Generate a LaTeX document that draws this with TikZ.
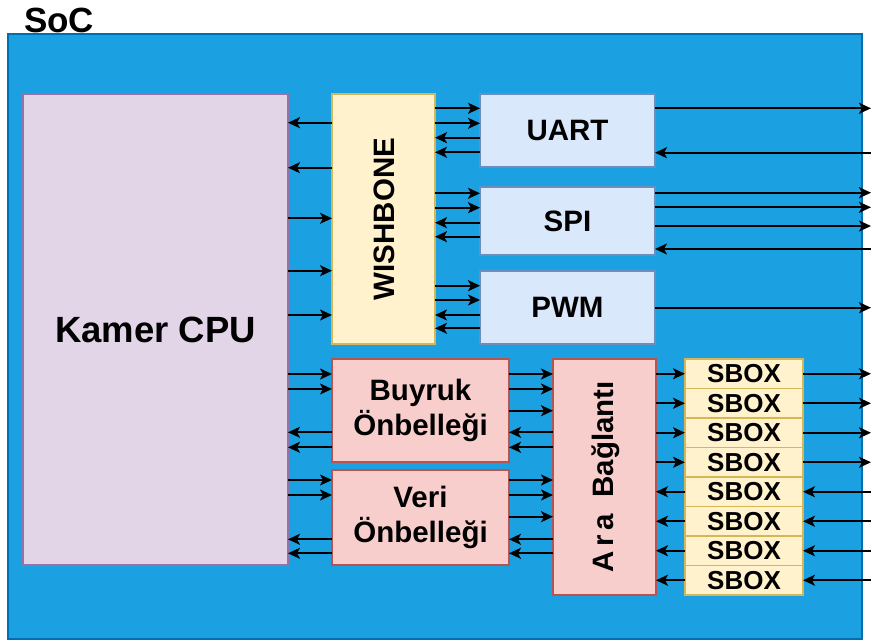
\documentclass[tikz,border=0pt]{standalone}
\usepackage{fontspec}
\setmainfont{Liberation Sans}
\usetikzlibrary{arrows.meta}
\definecolor{socfill}{HTML}{1BA1E2}
\definecolor{socline}{HTML}{006EAF}
\definecolor{cpufill}{HTML}{E1D5E7}
\definecolor{cpuline}{HTML}{9673A6}
\definecolor{yfill}{HTML}{FFF2CC}
\definecolor{yline}{HTML}{D6B656}
\definecolor{bfill}{HTML}{DAE8FC}
\definecolor{bline}{HTML}{6C8EBF}
\definecolor{rfill}{HTML}{F8CECC}
\definecolor{rline}{HTML}{B85450}
\tikzset{
  blk/.style={draw, line width=1.2pt, anchor=north west, inner sep=0pt, outer sep=0pt,
    font=\bfseries\fontsize{29.5}{35}\selectfont, align=center, text=black},
  arr/.style={draw=black, line width=2pt, -{Stealth[length=12pt,width=11pt,inset=3pt]}},
}
\begin{document}
\begin{tikzpicture}[x=1pt,y=-1pt]
\useasboundingbox (0,0) rectangle (871,640);
\node[blk, draw=socline, fill=socfill, line width=1.5pt, minimum width=854pt, minimum height=605pt] (soc) at (8,34) {};
\node[anchor=base west, inner sep=0pt, font=\bfseries\fontsize{35}{40}\selectfont] (soclabel) at (24,32) {SoC};
\node[blk, draw=cpuline, fill=cpufill, minimum width=265pt, minimum height=471pt, font=\bfseries\fontsize{36.5}{42}\selectfont] (cpu) at (23,94) {Kamer CPU};
\node[blk, draw=yline, fill=yfill, minimum width=103pt, minimum height=250pt] (wb) at (332,94) {};
\node[rotate=90, font=\bfseries\fontsize{29.5}{35}\selectfont] (wbtext) at ([xshift=1pt]wb.center) {WISHBONE};
\node[blk, draw=bline, fill=bfill, minimum width=175pt, minimum height=73pt] (uart) at (480,94) {UART};
\node[blk, draw=bline, fill=bfill, minimum width=175pt, minimum height=68pt] (spi) at (480,187) {SPI};
\node[blk, draw=bline, fill=bfill, minimum width=175pt, minimum height=73pt] (pwm) at (480,271) {PWM};
\node[blk, draw=rline, fill=rfill, minimum width=177pt, minimum height=103pt] (buy) at (332,359) {Buyruk\\Önbelleği};
\node[blk, draw=rline, fill=rfill, minimum width=177pt, minimum height=95pt] (veri) at (332,470) {Veri\\Önbelleği};
\node[blk, draw=rline, fill=rfill, minimum width=103pt, minimum height=236pt] (ara) at (553,359) {};
\node[rotate=90, font=\bfseries\fontsize{29.5}{35}\selectfont] (aratext) at ([xshift=1pt]ara.center) {A\,r\,a\ \ Bağlantı};
\foreach \i in {1,...,8}
  \node[blk, draw=yline, fill=yfill, minimum width=118pt, minimum height=29.5pt, font=\bfseries\fontsize{26}{29}\selectfont] (sb\i) at (685,{359+(\i-1)*29.5}) {SBOX};
\coordinate (rim) at (871,0);
% CPU <-> WISHBONE
\foreach \y in {122.7,167.7} \draw[arr] (wb.west |- 0,\y) -- (cpu.east |- 0,\y);
\foreach \y in {218.3,270.7,315} \draw[arr] (cpu.east |- 0,\y) -- (wb.west |- 0,\y);
% WISHBONE <-> peripherals
\foreach \y in {108.3,123.3} \draw[arr] (wb.east |- 0,\y) -- (uart.west |- 0,\y);
\foreach \y in {137.7,152.3} \draw[arr] (uart.west |- 0,\y) -- (wb.east |- 0,\y);
\foreach \y in {193.3,207.7} \draw[arr] (wb.east |- 0,\y) -- (spi.west |- 0,\y);
\foreach \y in {222.7,236.7} \draw[arr] (spi.west |- 0,\y) -- (wb.east |- 0,\y);
\foreach \y in {285.7,300} \draw[arr] (wb.east |- 0,\y) -- (pwm.west |- 0,\y);
\foreach \y in {315,328.3} \draw[arr] (pwm.west |- 0,\y) -- (wb.east |- 0,\y);
% peripherals <-> outside
\draw[arr] (uart.east |- 0,108.3) -- (rim |- 0,108.3);
\draw[arr] (rim |- 0,152.7) -- (uart.east |- 0,152.7);
\foreach \y in {192.7,207.3,226} \draw[arr] (spi.east |- 0,\y) -- (rim |- 0,\y);
\draw[arr] (rim |- 0,249) -- (spi.east |- 0,249);
\draw[arr] (pwm.east |- 0,307.7) -- (rim |- 0,307.7);
% CPU <-> caches
\foreach \y in {374,389} \draw[arr] (cpu.east |- 0,\y) -- (buy.west |- 0,\y);
\foreach \y in {432.3,447.3} \draw[arr] (buy.west |- 0,\y) -- (cpu.east |- 0,\y);
\foreach \y in {480,495} \draw[arr] (cpu.east |- 0,\y) -- (veri.west |- 0,\y);
\foreach \y in {539.3,553.3} \draw[arr] (veri.west |- 0,\y) -- (cpu.east |- 0,\y);
% caches <-> Ara Baglanti
\foreach \y in {374,389,410.7} \draw[arr] (buy.east |- 0,\y) -- (ara.west |- 0,\y);
\foreach \y in {432.3,447.3} \draw[arr] (ara.west |- 0,\y) -- (buy.east |- 0,\y);
\foreach \y in {480,495,516.7} \draw[arr] (veri.east |- 0,\y) -- (ara.west |- 0,\y);
\foreach \y in {539.3,553.3} \draw[arr] (ara.west |- 0,\y) -- (veri.east |- 0,\y);
% Ara Baglanti <-> SBOX <-> outside
\foreach \i in {1,...,4} {
  \draw[arr] (ara.east |- sb\i.west) -- (sb\i.west);
  \draw[arr] (sb\i.east) -- (rim |- sb\i.east);
}
\foreach \i in {5,...,8} {
  \draw[arr] (sb\i.west) -- (ara.east |- sb\i.west);
  \draw[arr] (rim |- sb\i.east) -- (sb\i.east);
}
\end{tikzpicture}
\end{document}
